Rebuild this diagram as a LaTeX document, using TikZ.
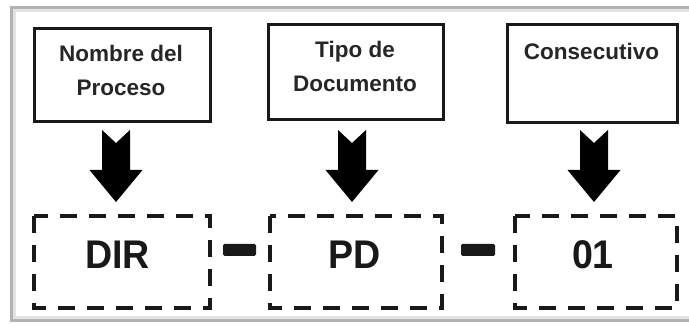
\documentclass[tikz,border=0pt]{standalone}
\usepackage{fontspec}
\setmainfont{Liberation Sans}
\begin{document}
\begin{tikzpicture}[x=1pt,y=-1pt,
  topbox/.style={draw=black!90, line width=3pt, fill=white},
  dashbox/.style={draw=black!90, line width=3.5pt, dash pattern=on 17pt off 12pt},
  toptext/.style={align=center, text=black!85, inner sep=0pt,
     font=\fontsize{22.5}{34}\selectfont\bfseries},
  bigtext/.style={anchor=base, text=black!90, inner sep=0pt,
     font=\fontsize{40}{48}\selectfont\bfseries},
  minusbar/.style={fill=black!90, rounded corners=1.5pt},
  blockarrow/.style={fill=black}]
\useasboundingbox (0,0) rectangle (689,328);
% frame
\draw[line width=3pt, gray!60] (11.5,7.5) rectangle (700,320.5);
\draw[line width=3pt, gray!22] (14.5,10.5) rectangle (697,317.5);
% top boxes
\draw[topbox] (34,29) rectangle (210,122) coordinate (t1end);
\draw[topbox] (268,25) rectangle (443,120) coordinate (t2end);
\draw[topbox] (507,25) rectangle (677,123) coordinate (t3end);
\node[toptext] (l1) at (121,70.5) {Nombre del\\Proceso};
\node[toptext] (l2) at (355,66) {Tipo de\\Documento};
\node[toptext] (l3) at (591.5,51.5) {Consecutivo};
% block arrows
\foreach \cx/\n in {116/a1,352/a2,594/a3}{
  \fill[blockarrow] (\cx-14,130) -- (\cx,143) -- (\cx+14,130) -- (\cx+14,170)
     -- (\cx+26.5,170) -- (\cx,202) -- (\cx-26.5,170) -- (\cx-14,170) -- cycle;
}
% dashed boxes
\draw[dashbox] (34,216) rectangle (210,308);
\draw[dashbox] (270,216) rectangle (442,308);
\draw[dashbox] (515,216) rectangle (677,308);
\node[bigtext] (d1) at (117.5,269) {\scalebox{0.94}[1]{DIR}};
\node[bigtext] (d2) at (354.5,269) {\scalebox{0.94}[1]{PD}};
\node[bigtext] (d3) at (593,269) {\scalebox{0.94}[1]{01}};
% minus signs
\fill[minusbar] (223,244) rectangle (256,256);
\fill[minusbar] (461,244) rectangle (495,256);
\end{tikzpicture}
\end{document}
